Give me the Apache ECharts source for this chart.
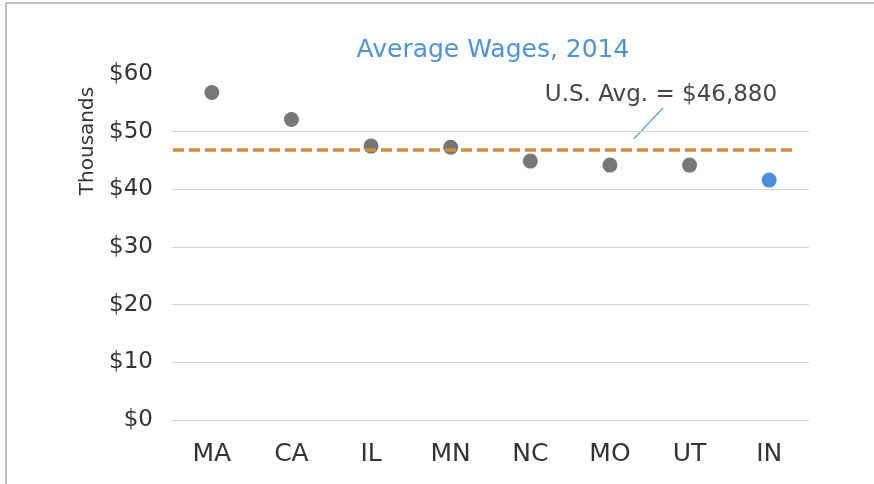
<!DOCTYPE html>
<html>
<head>
<meta charset="utf-8">
<style>
  html, body { margin: 0; padding: 0; background: #fff; }
  #chart { width: 874px; height: 484px; }
</style>
<script src="https://cdn.jsdelivr.net/npm/echarts@6/dist/echarts.min.js"></script>
</head>
<body>
<div id="chart"></div>
<script>
// Average annual wages by state, 2014 (thousands of dollars)
const states = ['MA', 'CA', 'IL', 'MN', 'NC', 'MO', 'UT', 'IN'];
const wages = [56.8, 52.1, 47.5, 47.3, 44.9, 44.2, 44.2, 41.6];
const highlightState = 'IN';
const usAverage = 46.88;
const usAverageText = 'U.S. Avg. = $46,880';
const gridValues = [0, 10, 20, 30, 40, 50];

const FONT = '"DejaVu Sans", "Noto Sans", sans-serif';
const GRAY = '#777777';
const BLUE = '#4a90d9';

const chart = echarts.init(document.getElementById('chart'));

const option = {
  animation: false,
  backgroundColor: '#fff',
  title: {
    text: 'Average Wages, 2014',
    left: 488,
    textAlign: 'center',
    top: 33,
    textStyle: { color: '#4f93d4', fontFamily: FONT, fontSize: 25, fontWeight: 'normal' }
  },
  grid: { left: 172, right: 65, top: 74, bottom: 64 },
  xAxis: {
    type: 'category',
    data: states,
    axisLine: { show: false },
    axisTick: { show: false },
    axisLabel: { color: '#333', fontFamily: FONT, fontSize: 25, margin: 22 }
  },
  yAxis: {
    type: 'value',
    min: 0,
    max: 60,
    interval: 10,
    splitLine: { show: false },
    axisLine: { show: false },
    axisTick: { show: false },
    axisLabel: {
      color: '#333', fontFamily: FONT, fontSize: 23, margin: 19,
      formatter: v => '$' + v,
      padding: [6, 0, 0, 0]
    }
  },
  series: [
    {
      // horizontal grid lines
      type: 'line',
      data: [],
      silent: true,
      markLine: {
        silent: true,
        symbol: 'none',
        label: { show: false },
        lineStyle: { color: '#d4d4d4', width: 1.2, type: 'solid' },
        data: gridValues.map(v => ({ yAxis: v }))
      }
    },
    {
      type: 'scatter',
      symbol: 'circle',
      symbolSize: 15,
      z: 3,
      data: states.map((s, i) => ({
        value: wages[i],
        itemStyle: { color: s === highlightState ? BLUE : GRAY, opacity: 1 }
      })),
      markLine: {
        silent: true,
        symbol: 'none',
        z: 4,
        label: { show: false },
        lineStyle: { color: '#d28d3e', width: 3.5, type: [11, 5] },
        data: [[{ x: 173, yAxis: usAverage }, { x: 794, yAxis: usAverage }]]
      }
    }
  ],
  graphic: [
    // frame
    { id: 'frameTop', type: 'line', shape: { x1: 6, y1: 3, x2: 874, y2: 3 }, style: { stroke: '#aaa', lineWidth: 1.5 } },
    { id: 'frameLeft', type: 'line', shape: { x1: 6, y1: 3, x2: 6, y2: 484 }, style: { stroke: '#aaa', lineWidth: 1.5 } },
    {
      id: 'yName',
      type: 'text',
      x: 88, y: 141,
      rotation: Math.PI / 2,
      style: {
        text: 'Thousands', fill: '#333', font: '20px ' + FONT,
        align: 'center', verticalAlign: 'middle'
      }
    },
    {
      id: 'avgNote',
      type: 'text',
      x: 661, y: 95,
      style: {
        text: usAverageText, fill: '#444', font: '23px ' + FONT,
        align: 'center', verticalAlign: 'middle'
      }
    }
  ]
};

chart.setOption(option);

// leader line from the annotation down to the average line
const avgY = chart.convertToPixel({ yAxisIndex: 0 }, usAverage);
chart.setOption({
  graphic: [
    { id: 'leader', type: 'line', shape: { x1: 663, y1: 108, x2: 634, y2: avgY - 11 }, style: { stroke: '#5a9bd6', lineWidth: 1.3 } }
  ]
});
</script>
</body>
</html>
